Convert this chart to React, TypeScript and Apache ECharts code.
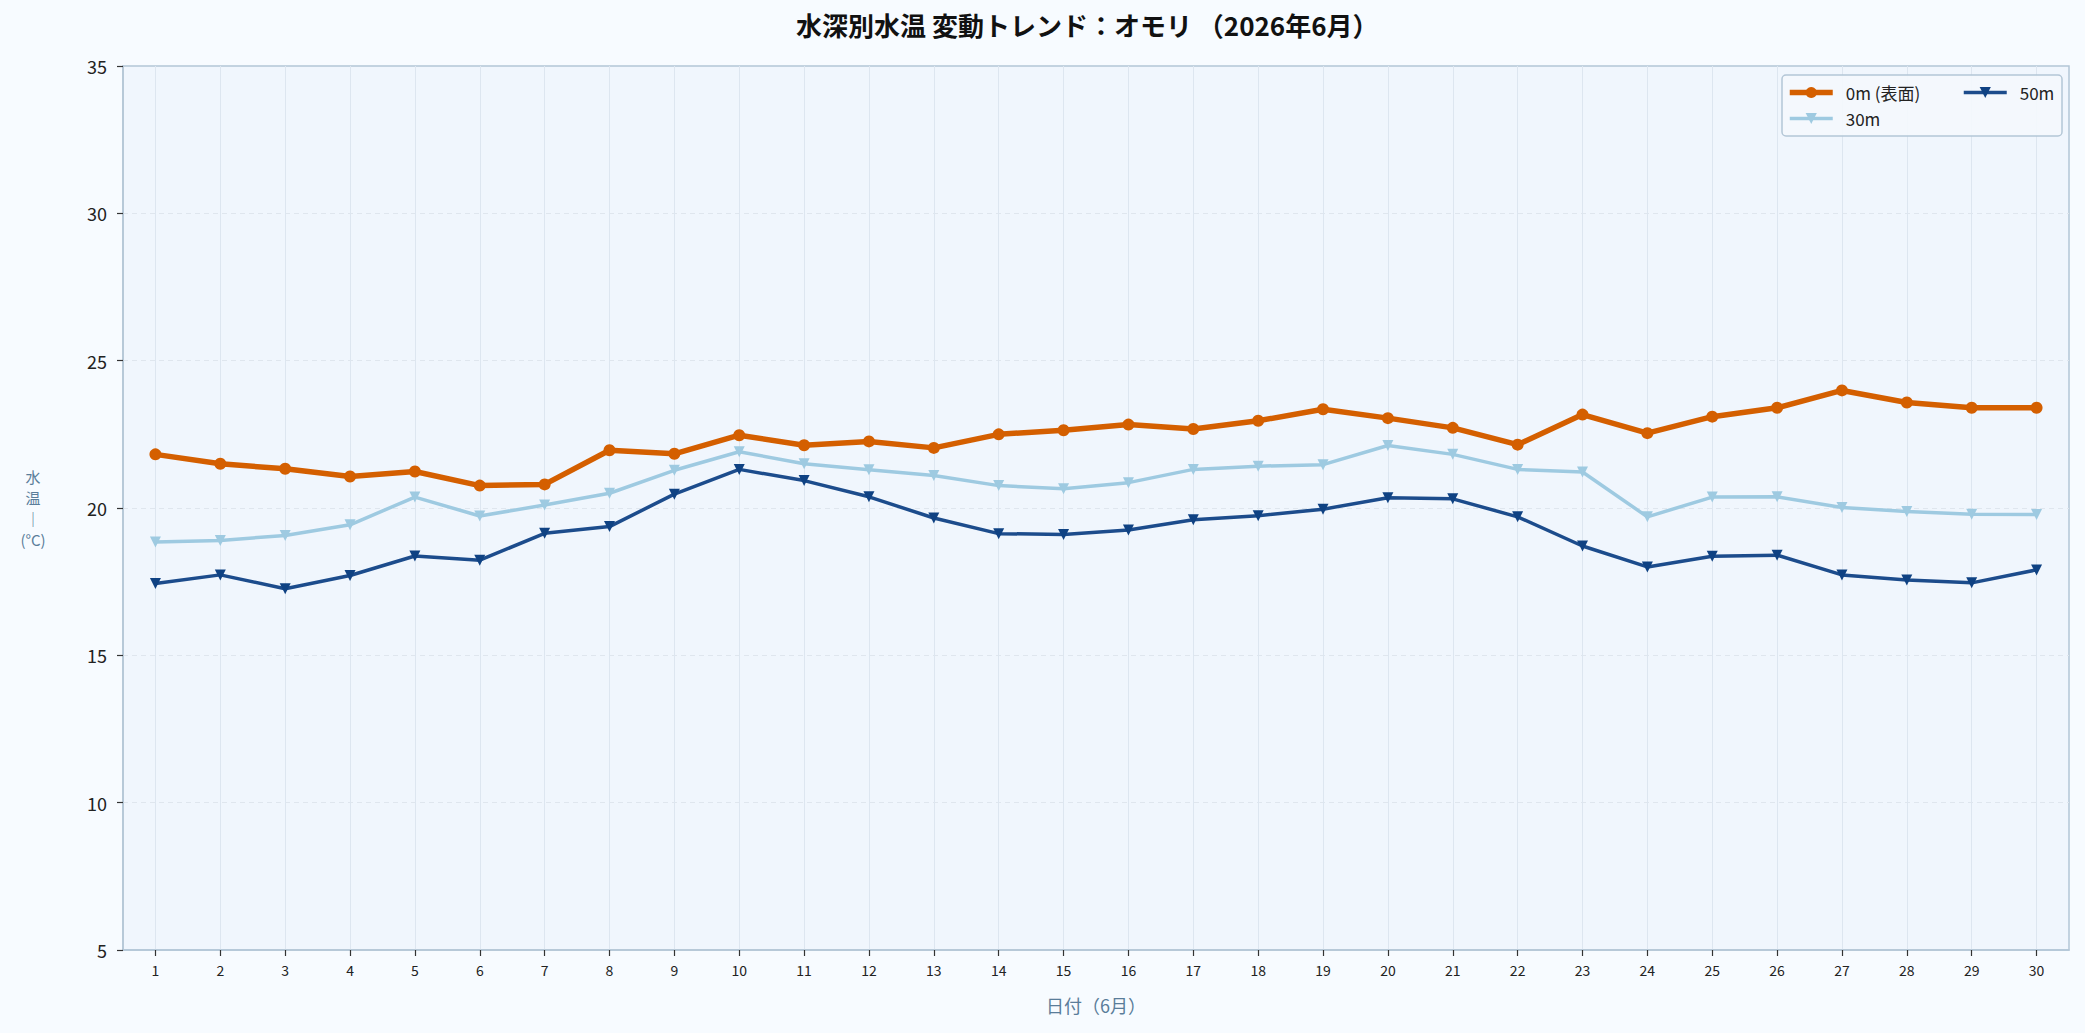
import React, { useEffect, useRef } from "react";
import * as echarts from "echarts";

const days = ["1","2","3","4","5","6","7","8","9","10","11","12","13","14","15","16","17","18","19","20","21","22","23","24","25","26","27","28","29","30"];

const surface0m = [21.82,21.5,21.33,21.07,21.24,20.76,20.8,21.96,21.84,22.47,22.13,22.26,22.04,22.5,22.64,22.83,22.68,22.96,23.35,23.05,22.72,22.15,23.17,22.54,23.1,23.4,23.99,23.58,23.4,23.4];
const depth30m = [18.85,18.9,19.07,19.43,20.37,19.73,20.1,20.5,21.28,21.91,21.5,21.3,21.1,20.76,20.65,20.86,21.31,21.42,21.47,22.12,21.82,21.31,21.22,19.7,20.37,20.38,20.02,19.88,19.79,19.78];
const depth50m = [17.44,17.73,17.26,17.71,18.37,18.23,19.14,19.37,20.47,21.31,20.93,20.38,19.66,19.13,19.1,19.25,19.6,19.74,19.96,20.35,20.31,19.7,18.71,18.0,18.36,18.4,17.73,17.56,17.46,17.9];

const seriesNames = ["0m (表面)", "30m", "50m"];
const yTicks = { min: 5, max: 35, interval: 5 };

const FONT = "'Noto Sans CJK JP', 'Noto Sans', sans-serif";

const ORANGE = "#d45f00";
const LIGHT = "#9ecae1";
const DARK = "#1c4c8c";

export default function App() {
  const ref = useRef<HTMLDivElement>(null);
  useEffect(() => {
    document.body.style.margin = "0";
    document.body.style.background = "#f7fbff";
    const chart = echarts.init(ref.current!, null, { renderer: "svg" });
    const legendText = { fontSize: 17, color: "#222", padding: [0, 0, 0, 8], fontFamily: FONT };
    chart.setOption({
      animation: false,
      backgroundColor: "#f7fbff",
      textStyle: { fontFamily: FONT },
      title: {
        text: "水深別水温 変動トレンド：オモリ （2026年6月）",
        left: 796,
        top: 11,
        padding: 0,
        textStyle: { fontSize: 26, fontWeight: "bold", color: "#111", fontFamily: FONT },
      },
      grid: {
        left: 123,
        right: 16,
        top: 66,
        bottom: 83,
        show: true,
        backgroundColor: "#f0f6fd",
        borderColor: "#b3c6d6",
        borderWidth: 1.5,
      },
      legend: [
        {
          data: [
            { name: seriesNames[0], lineStyle: { width: 5.5 } },
            { name: seriesNames[1], lineStyle: { width: 3.5 } },
          ],
          orient: "vertical",
          left: 1787,
          top: 84,
          padding: 0,
          itemGap: 9,
          itemWidth: 43,
          itemHeight: 14,
          z: 10,
          textStyle: legendText,
        },
        {
          data: [{ name: seriesNames[2], lineStyle: { width: 3.5 } }],
          orient: "vertical",
          left: 1962,
          top: 84,
          padding: 0,
          itemWidth: 43,
          itemHeight: 14,
          z: 10,
          textStyle: legendText,
        },
      ],
      graphic: [
        {
          type: "rect",
          z: 3,
          shape: { x: 1782, y: 75, width: 280, height: 61, r: 4 },
          style: { fill: "rgba(244,248,253,0.9)", stroke: "#b3c6d6", lineWidth: 1.5 },
        },
      ],
      xAxis: {
        type: "category",
        data: days,
        boundaryGap: true,
        name: "日付（6月）",
        nameLocation: "middle",
        nameGap: 46,
        nameTextStyle: { fontSize: 18, color: "#5a7d9a", fontFamily: FONT },
        axisLine: { show: true, lineStyle: { color: "#b3c6d6", width: 1.5 } },
        axisTick: { show: true, alignWithLabel: true, length: 6, lineStyle: { color: "#333", width: 1.2 } },
        axisLabel: { interval: 0, fontSize: 14, color: "#222", margin: 13 },
        splitLine: { show: true, alignWithLabel: true, interval: 0, lineStyle: { color: "#dde6f0", width: 1 } },
      },
      yAxis: {
        type: "value",
        min: yTicks.min,
        max: yTicks.max,
        interval: yTicks.interval,
        name: "水\n温\n｜\n(°C)",
        nameLocation: "middle",
        nameRotate: 0,
        nameGap: 90,
        nameTextStyle: { fontSize: 15, color: "#5a7d9a", align: "center", lineHeight: 21, fontFamily: FONT },
        axisLine: { show: true, lineStyle: { color: "#b3c6d6", width: 1.5 } },
        axisTick: { show: true, length: 6, lineStyle: { color: "#333", width: 1.2 } },
        axisLabel: { fontSize: 18, color: "#222", margin: 16 },
        splitLine: { show: true, showMinLine: false, showMaxLine: false, lineStyle: { color: "#dfe6ee", type: [5, 4], width: 1 } },
      },
      series: [
        {
          name: seriesNames[0],
          type: "line",
          data: surface0m,
          symbol: "circle",
          symbolSize: 12,
          z: 5,
          lineStyle: { color: ORANGE, width: 5.5 },
          itemStyle: { color: ORANGE },
        },
        {
          name: seriesNames[1],
          type: "line",
          data: depth30m,
          symbol: "triangle",
          symbolRotate: 180,
          symbolSize: 11,
          z: 3,
          lineStyle: { color: LIGHT, width: 3.5 },
          itemStyle: { color: LIGHT },
        },
        {
          name: seriesNames[2],
          type: "line",
          data: depth50m,
          symbol: "triangle",
          symbolRotate: 180,
          symbolSize: 11,
          z: 4,
          lineStyle: { color: DARK, width: 3.5 },
          itemStyle: { color: "#0f4283" },
        },
      ],
    });
    return () => chart.dispose();
  }, []);
  return <div ref={ref} style={{ width: 2085, height: 1033, position: "absolute", left: 0, top: 0 }} />;
}
